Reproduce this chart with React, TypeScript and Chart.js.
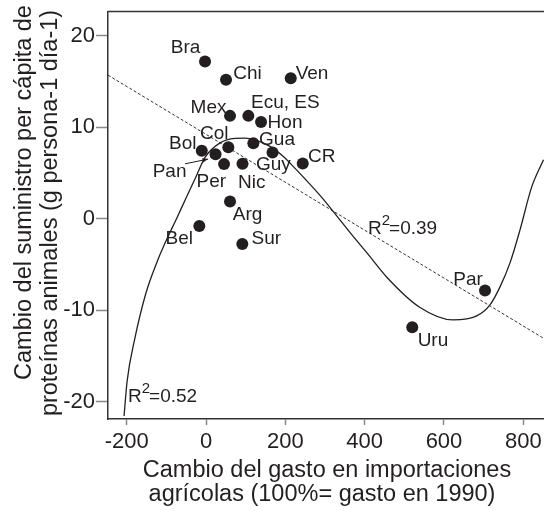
import React, { useEffect, useRef } from 'react';
import { Chart, registerables } from 'chart.js';

Chart.register(...registerables);

// ---- data ----
const countries = ['Bra', 'Chi', 'Ven', 'Mex', 'Ecu, ES', 'Hon', 'Col', 'Bol', 'Pan', 'Gua', 'Guy', 'CR', 'Per', 'Nic', 'Arg', 'Bel', 'Sur', 'Par', 'Uru'];
const importChange = [-2.5, 50.4, 213.6, 60.5, 106.7, 138.7, 56.2, -10.8, 24, 119.3, 167.7, 243.8, 45.4, 92, 60.5, -16.9, 91.5, 703.5, 520];
const proteinChange = [17.16, 15.16, 15.34, 11.22, 11.22, 10.54, 7.78, 7.42, 7.02, 8.22, 7.23, 6.03, 5.95, 5.98, 1.86, -0.8, -2.77, -7.85, -11.87];

// label placement (pixel offsets from the marker)
const labelDx = [-19.5, 21.5, 21.3, -21.5, 37, 24, -14, -19, -46, 23.7, 0.8, 19, -12.7, 9.2, 17.5, -20, 24, -17, 20.7];
const labelDy = [-15.7, -8, -6.3, -10, -15, -1.3, -15, -8, 15.5, -5.5, 11, -7.7, 15.7, 17.7, 11.3, 11, -7, -12.5, 11.7];

// polynomial fit curve
const curveX = [-206.7, -199.2, -180.3, -151.3, -123.5, -100.9, -75.6, -50.4, -25.2, -2.5, 35.3, 73.1, 98.3, 123.5, 161.4, 194.2, 224.4, 249.6, 291.7, 329.5, 368, 405.9, 456.4, 539.6, 622.8, 682.6, 716, 741.3, 766.5, 791.7, 821.2, 850.9];
const curveY = [-21.56, -17.84, -13.25, -8.1, -4.73, -2.44, -0.12, 2.24, 4.58, 6.69, 8.27, 8.77, 8.8, 8.6, 7.89, 6.8, 5.49, 4.34, 2.32, 0.3, -1.78, -3.75, -6.43, -9.71, -11.07, -10.63, -9.43, -7.46, -4.84, -1.24, 3.46, 6.42];

// linear trend (endpoints)
const trendX = [-247.2, 852.2];
const trendY = [15.67, -13.1];

const xTicks = [-200, 0, 200, 400, 600, 800];
const yTicks = [-20, -10, 0, 10, 20];

const r2Values = ['0.39', '0.52'];
const r2X = [408.5, -196.7];
const r2Y = [-1.67, -20.0];

const xTitle = ['Cambio del gasto en importaciones', 'agrícolas (100%= gasto en 1990)'];
const yTitle = ['Cambio del suministro per cápita de', 'proteínas animales (g persona-1 día-1)'];

const FAMILY = "'Liberation Sans', Arial, sans-serif";
const INK = '#231f20';

const overlayPlugin = {
  id: 'overlay',
  afterDatasetsDraw(chart: any) {
    const ctx = chart.ctx as CanvasRenderingContext2D;
    const { left, right, top } = chart.chartArea;
    const xs = chart.scales.x;
    const ys = chart.scales.y;
    ctx.save();
    // top frame line
    ctx.strokeStyle = '#333';
    ctx.lineWidth = 1.5;
    ctx.beginPath();
    ctx.moveTo(left, top);
    ctx.lineTo(right, top);
    ctx.stroke();

    // point labels
    const meta = chart.getDatasetMeta(0);
    ctx.fillStyle = INK;
    ctx.font = `19px ${FAMILY}`;
    ctx.textAlign = 'center';
    ctx.textBaseline = 'alphabetic';
    meta.data.forEach((el: any, i: number) => {
      ctx.fillText(countries[i], el.x + labelDx[i], el.y + labelDy[i] + 6.8);
    });

    // Pan arrow
    const pan = meta.data[countries.indexOf('Pan')];
    if (pan) {
      const sx = pan.x - 30.5, sy = pan.y + 9.5;
      const ex = pan.x - 7.5, ey = pan.y + 4.8;
      ctx.strokeStyle = INK;
      ctx.lineWidth = 1;
      ctx.beginPath();
      ctx.moveTo(sx, sy);
      ctx.lineTo(ex, ey);
      ctx.stroke();
      const ang = Math.atan2(ey - sy, ex - sx);
      ctx.beginPath();
      ctx.moveTo(ex, ey);
      ctx.lineTo(ex - 6 * Math.cos(ang - 0.4), ey - 6 * Math.sin(ang - 0.4));
      ctx.lineTo(ex - 6 * Math.cos(ang + 0.4), ey - 6 * Math.sin(ang + 0.4));
      ctx.closePath();
      ctx.fill();
    }

    // R² labels
    ctx.textAlign = 'left';
    r2Values.forEach((v, i) => {
      const px = xs.getPixelForValue(r2X[i]);
      const py = ys.getPixelForValue(r2Y[i]);
      ctx.font = `19px ${FAMILY}`;
      ctx.fillText('R', px, py);
      const w = ctx.measureText('R').width;
      ctx.font = `15px ${FAMILY}`;
      ctx.fillText('2', px + w, py - 9);
      const w2 = ctx.measureText('2').width;
      ctx.font = `19px ${FAMILY}`;
      ctx.fillText('=' + v, px + w + w2 - 1, py);
    });

    // axis titles
    ctx.textAlign = 'center';
    ctx.font = `23.5px ${FAMILY}`;
    ctx.fillText(xTitle[0], 327, 477);
    ctx.fillText(xTitle[1], 322, 501);

    ctx.font = `23.5px ${FAMILY}`;
    ctx.save();
    ctx.translate(31, 192.5);
    ctx.rotate(-Math.PI / 2);
    ctx.fillText(yTitle[0], 0, 0);
    ctx.restore();
    ctx.save();
    ctx.translate(57, 213);
    ctx.rotate(-Math.PI / 2);
    ctx.fillText(yTitle[1], 0, 0);
    ctx.restore();

    ctx.restore();
  },
};

export default function App() {
  const ref = useRef<HTMLCanvasElement | null>(null);

  useEffect(() => {
    if (!ref.current) return;
    const chart = new Chart(ref.current, {
      type: 'scatter',
      data: {
        datasets: [
          {
            label: 'países',
            data: importChange.map((x, i) => ({ x, y: proteinChange[i] })),
            pointRadius: 6,
            pointHoverRadius: 6,
            backgroundColor: INK,
            borderColor: INK,
            borderWidth: 0,
            order: 0,
          },
          {
            type: 'line',
            label: 'lineal',
            data: trendX.map((x, i) => ({ x, y: trendY[i] })),
            borderColor: '#333',
            borderWidth: 1,
            borderDash: [3, 2],
            pointRadius: 0,
            fill: false,
            order: 2,
          } as any,
          {
            type: 'line',
            label: 'polinomial',
            data: curveX.map((x, i) => ({ x, y: curveY[i] })),
            borderColor: INK,
            borderWidth: 1.3,
            pointRadius: 0,
            fill: false,
            cubicInterpolationMode: 'monotone',
            order: 1,
          } as any,
        ],
      },
      options: {
        responsive: false,
        animation: false,
        events: [],
        layout: { autoPadding: false, padding: { top: 11.5, left: 0, right: 0, bottom: 0 } },
        plugins: { legend: { display: false }, tooltip: { enabled: false } },
        scales: {
          x: {
            type: 'linear',
            min: -247.2,
            max: 852.2,
            afterBuildTicks: (s: any) => {
              s.ticks = xTicks.map((v) => ({ value: v }));
            },
            afterFit: (s: any) => {
              s.height = 92;
              s.paddingLeft = 0;
              s.paddingRight = 0;
            },
            grid: { drawOnChartArea: false, drawTicks: true, tickLength: 6, tickColor: '#888', tickWidth: 1.5 },
            border: { display: true, color: '#333', width: 1.5 },
            ticks: { font: { family: FAMILY, size: 22 }, color: INK, padding: 4, maxRotation: 0, autoSkip: false },
          },
          y: {
            type: 'linear',
            min: -21.89,
            max: 22.62,
            afterBuildTicks: (s: any) => {
              s.ticks = yTicks.map((v) => ({ value: v }));
            },
            afterFit: (s: any) => {
              s.width = 108;
              s.paddingTop = 0;
              s.paddingBottom = 0;
            },
            grid: { drawOnChartArea: false, drawTicks: true, tickLength: 12, tickColor: '#888', tickWidth: 1.5 },
            border: { display: true, color: '#333', width: 1.5 },
            ticks: { font: { family: FAMILY, size: 22 }, color: INK, padding: 1, autoSkip: false },
          },
        },
      },
      plugins: [overlayPlugin],
    } as any);
    return () => chart.destroy();
  }, []);

  return (
    <div style={{ position: 'absolute', left: 0, top: 0, width: 544, height: 511 }}>
      <canvas ref={ref} width={544} height={511} style={{ display: 'block', width: 544, height: 511 }} />
    </div>
  );
}
